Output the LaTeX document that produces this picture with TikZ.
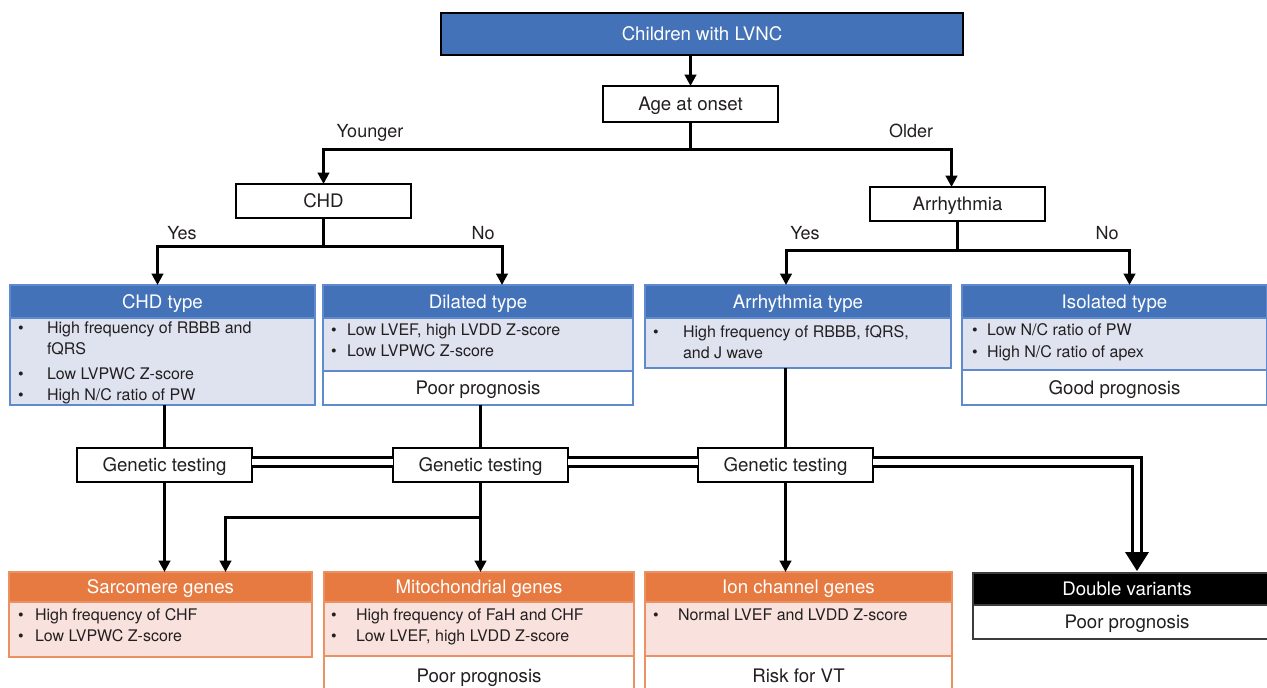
\documentclass[tikz,border=0pt]{standalone}
\usepackage{fontspec}
\setmainfont{TeX Gyre Heros}
\usetikzlibrary{arrows.meta,calc}
\definecolor{hblue}{RGB}{67,114,185}
\definecolor{lblue}{RGB}{223,227,240}
\definecolor{bblue}{RGB}{95,138,205}
\definecolor{horange}{RGB}{230,122,64}
\definecolor{lpink}{RGB}{249,226,221}
\definecolor{borange}{RGB}{236,145,98}
\definecolor{txt}{RGB}{35,31,32}
\definecolor{dgray}{RGB}{60,60,60}
\newcommand\hfont{\fontsize{14pt}{16pt}\selectfont}
\newcommand\bfont{\fontsize{12pt}{14pt}\selectfont}
\newcommand\lfont{\fontsize{13.5pt}{15pt}\selectfont}
\newcommand\mkbox[7]{\node[#6, minimum width={(#4-#2)*0.75pt}, minimum height={(#5-#3)*0.75pt}] (#1) at ({(#2+#4)/2},{(#3+#5)/2}) {#7};}
\begin{document}
\begin{tikzpicture}[x=0.75pt,y=-0.75pt,
  every node/.style={inner sep=0pt, outer sep=0pt, text=txt},
  wbox/.style={draw=black, line width=1pt, fill=white, font=\hfont, text height=10.1pt, text depth=0pt},
  topbox/.style={wbox, fill=hblue, text=white},
  bhead/.style={draw=bblue, line width=1pt, fill=hblue, text=white, font=\hfont, text height=10.1pt, text depth=0pt},
  bbody/.style={draw=bblue, line width=1pt, fill=lblue},
  bfoot/.style={draw=bblue, line width=1pt, fill=white, font=\hfont, text height=10.1pt, text depth=0pt},
  ohead/.style={draw=borange, line width=1pt, fill=horange, text=white, font=\hfont, text height=10.1pt, text depth=0pt},
  obody/.style={draw=borange, line width=1pt, fill=lpink},
  ofoot/.style={draw=borange, line width=1pt, fill=white, font=\hfont, text height=10.1pt, text depth=0pt},
  khead/.style={draw=dgray, line width=1pt, fill=black, text=white, font=\hfont, text height=10.1pt, text depth=0pt},
  kfoot/.style={draw=dgray, line width=1pt, fill=white, font=\hfont, text height=10.1pt, text depth=0pt},
  bline/.style={font=\bfont, anchor=base west},
  bdot/.style={font=\bfont, anchor=base},
  lbl/.style={font=\lfont, anchor=base},
  ln/.style={line width=2.25pt},
  arr/.style={ln, -{Triangle[width=8.5pt,length=8.5pt]}},
  dbl/.style={line width=2.25pt, double=white, double distance=4.9pt}
]
\useasboundingbox (0,0) rectangle (1267,688);

% top levels
\mkbox{top}{441}{13}{963}{55}{topbox}{Children with LVNC}
\mkbox{age}{603}{86}{778}{122}{wbox}{Age at onset}
\mkbox{chd}{236}{184}{411}{218}{wbox}{CHD}
\mkbox{arrh}{870}{187}{1045}{221}{wbox}{Arrhythmia}

% type boxes
\mkbox{chdh}{10}{285}{315}{318}{bhead}{CHD type}
\mkbox{chdb}{10}{318}{315}{405}{bbody}{}
\mkbox{dilh}{323}{285}{633}{318}{bhead}{Dilated type}
\mkbox{dilb}{323}{318}{633}{371}{bbody}{}
\mkbox{dilf}{323}{371}{633}{405}{bfoot}{Poor prognosis}
\mkbox{arth}{645}{285}{951}{318}{bhead}{Arrhythmia type}
\mkbox{artb}{645}{318}{951}{368}{bbody}{}
\mkbox{isoh}{962}{285}{1267}{318}{bhead}{Isolated type}
\mkbox{isob}{962}{318}{1267}{370}{bbody}{}
\mkbox{isof}{962}{370}{1267}{405}{bfoot}{Good prognosis}

% genetic testing
\mkbox{gt1}{77}{448}{252}{482}{wbox}{Genetic testing}
\mkbox{gt2}{393}{448}{568}{482}{wbox}{Genetic testing}
\mkbox{gt3}{698}{448}{873}{482}{wbox}{Genetic testing}

% gene boxes
\mkbox{sarh}{9}{572}{312}{602}{ohead}{Sarcomere genes}
\mkbox{sarb}{9}{602}{312}{657}{obody}{}
\mkbox{mith}{324}{572}{634}{602}{ohead}{Mitochondrial genes}
\mkbox{mitb}{324}{602}{634}{656}{obody}{}
\mkbox{mitf}{324}{656}{634}{696}{ofoot}{Poor prognosis}
\mkbox{ionh}{645}{572}{952}{602}{ohead}{Ion channel genes}
\mkbox{ionb}{645}{602}{952}{656}{obody}{}
\mkbox{ionf}{645}{656}{952}{696}{ofoot}{Risk for VT}
\mkbox{dvh}{973}{573}{1281}{605}{khead}{Double variants}
\mkbox{dvf}{973}{605}{1281}{639}{kfoot}{Poor prognosis}

% bullet texts
\node[bdot] (d1) at (21,333) {\textbullet};
\node[bline] (t1) at (47,333) {High frequency of RBBB and};
\node[bline] (t1b) at (47,354) {fQRS};
\node[bdot] (d2) at (21,379) {\textbullet};
\node[bline] (t2) at (47,379) {Low LVPWC Z-score};
\node[bdot] (d3) at (21,400) {\textbullet};
\node[bline] (t3) at (47,400) {High N/C ratio of PW};

\node[bdot] (d4) at (334,335) {\textbullet};
\node[bline] (t4) at (347,335) {Low LVEF, high LVDD Z-score};
\node[bdot] (d5) at (334,356) {\textbullet};
\node[bline] (t5) at (347,356) {Low LVPWC Z-score};

\node[bdot] (d6) at (656,337) {\textbullet};
\node[bline] (t6) at (683,337) {High frequency of RBBB, fQRS,};
\node[bline] (t6b) at (683,358) {and J wave};

\node[bdot] (d7) at (975,335) {\textbullet};
\node[bline] (t7) at (987,335) {Low N/C ratio of PW};
\node[bdot] (d8) at (975,357) {\textbullet};
\node[bline] (t8) at (987,357) {High N/C ratio of apex};

\node[bdot] (d9) at (21,620) {\textbullet};
\node[bline] (t9) at (35,620) {High frequency of CHF};
\node[bdot] (d10) at (21,641) {\textbullet};
\node[bline] (t10) at (35,641) {Low LVPWC Z-score};

\node[bdot] (d11) at (334,620) {\textbullet};
\node[bline] (t11) at (356,620) {High frequency of FaH and CHF};
\node[bdot] (d12) at (334,641) {\textbullet};
\node[bline] (t12) at (356,641) {Low LVEF, high LVDD Z-score};

\node[bdot] (d13) at (656,620) {\textbullet};
\node[bline] (t13) at (678,620) {Normal LVEF and LVDD Z-score};

% labels
\node[lbl] (younger) at (370,138) {Younger};
\node[lbl] (older) at (911,138) {Older};
\node[lbl] (yes1) at (182,239) {Yes};
\node[lbl] (no1) at (483,239) {No};
\node[lbl] (yes2) at (805,239) {Yes};
\node[lbl] (no2) at (1107,239) {No};

% connectors
\draw[arr] (age.north |- top.south) -- (age.north);
\draw[arr] (age.south) -- ++(0,28) -| (chd.north);
\draw[arr] (age.south) -- ++(0,28) -| ($(arrh.north)+(-6,0)$);
\draw[arr] (chd.south) -- ++(0,28) -| ($(chdh.north)+(-5,0)$);
\draw[arr] (chd.south) -- ++(0,28) -| ($(dilh.north)+(24,0)$);
\draw[arr] (arrh.south) -- ++(0,29) -| ($(arth.north)+(-12,0)$);
\draw[arr] (arrh.south) -- ++(0,29) -| ($(isoh.north)+(15,0)$);

\draw[ln] (gt1.north |- chdb.south) -- (gt1.north);
\draw[ln] (gt2.north |- dilf.south) -- (gt2.north);
\draw[ln] (gt3.north |- artb.south) -- (gt3.north);

\draw[dbl] ($(gt1.east)+(0,-3)$) -- ($(gt2.west)+(0,-3)$);
\draw[dbl] ($(gt2.east)+(0,-3)$) -- ($(gt3.west)+(0,-3)$);
\coordinate (dvin) at (1137,571);
\draw[dbl] ($(gt3.east)+(0,-3)$) -| ($(dvin)+(0,-15)$);
\fill[black] ($(dvin)+(-12,-19)$) -- ($(dvin)+(12,-19)$) -- (dvin) -- cycle;

\draw[arr] (gt1.south) -- (gt1.south |- sarh.north);
\draw[arr] (gt2.south) -- (gt2.south |- mith.north);
\draw[arr] (gt2.south |- 0,517) -| ($(sarh.north)+(65,0)$);
\draw[arr] (gt3.south) -- (gt3.south |- ionh.north);
\end{tikzpicture}
\end{document}
